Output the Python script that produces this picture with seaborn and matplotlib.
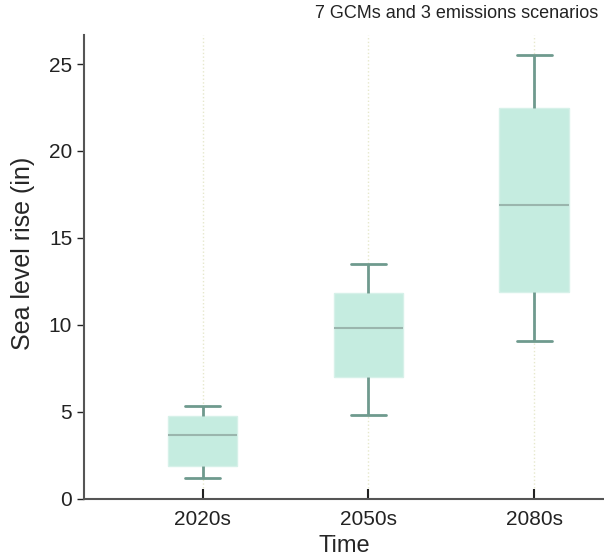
import numpy as np
import pandas as pd
import matplotlib
matplotlib.use("Agg")
import matplotlib.pyplot as plt
import seaborn as sns

# Five-number summaries (whisker low, Q1, median, Q3, whisker high)
periods = ["2020s", "2050s", "2080s"]
rise_2020s = [1.19, 1.88, 3.66, 4.72, 5.33]
rise_2050s = [4.81, 6.97, 9.82, 11.84, 13.51]
rise_2080s = [9.07, 11.88, 16.9, 22.45, 25.54]

df = pd.DataFrame({
    "Time": np.repeat(periods, 5),
    "rise": rise_2020s + rise_2050s + rise_2080s,
})

sns.set_style("white")
plt.rcParams["font.family"] = ["Liberation Sans", "DejaVu Sans"]

fig = plt.figure(figsize=(6.04, 5.57), dpi=100)
ax = fig.add_axes([0.139, 0.105, 0.861, 0.832])

fill = "#c5ece0"
line = "#6f9a8e"
sns.boxplot(data=df, x="Time", y="rise", order=periods, ax=ax,
            whis=(0, 100), width=0.42, color=fill, saturation=1,
            boxprops=dict(facecolor=fill, edgecolor="#d6f1e9", linewidth=1),
            whiskerprops=dict(color=line, linewidth=2),
            capprops=dict(color=line, linewidth=2),
            medianprops=dict(color="#9ab5ad", linewidth=1.5),
            showfliers=False)

ax.set_xlim(-0.715, 2.42)
ax.set_ylim(0, 26.67)
ax.set_yticks([0, 5, 10, 15, 20, 25])

# faint dotted guides at each period, behind the boxes
ax.grid(axis="x", linestyle=":", color="#e6e8cc", linewidth=1)
ax.set_axisbelow(True)

for side in ["top", "right"]:
    ax.spines[side].set_visible(False)
for side in ["left", "bottom"]:
    ax.spines[side].set_color("#555555")
    ax.spines[side].set_linewidth(1.5)

ax.tick_params(axis="y", direction="out", length=5, width=1, colors="#222222",
               labelsize=15, left=True)
ax.tick_params(axis="x", direction="in", length=7, width=1.5, colors="#222222",
               labelsize=15, bottom=True, pad=8)

ax.set_xlabel("Time", fontsize=17)
ax.xaxis.set_label_coords(0.5, -0.078)
ax.set_ylabel("Sea level rise (in)", fontsize=18)
ax.yaxis.set_label_coords(-0.094, 0.53)

fig.text(0.99, 0.975, "7 GCMs and 3 emissions scenarios", ha="right", va="center",
         fontsize=13, color="#222222")

fig.savefig("out.png", dpi=100)
plt.close()
